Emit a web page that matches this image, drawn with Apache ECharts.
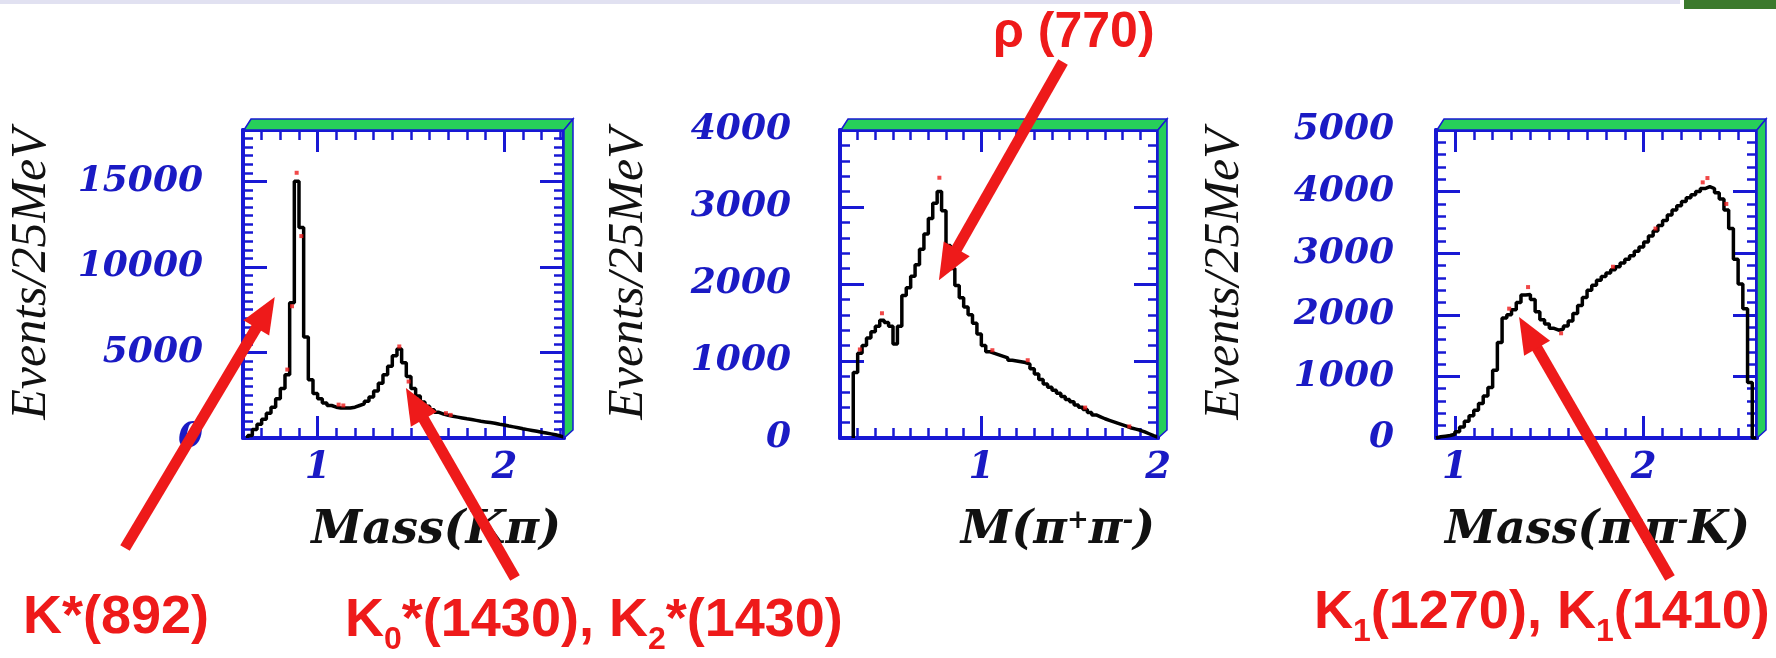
<!DOCTYPE html>
<html><head><meta charset="utf-8">
<script src="https://cdn.jsdelivr.net/npm/echarts@6/dist/echarts.min.js"></script>
<style>html,body{margin:0;padding:0;background:#fff}#c{width:1776px;height:658px}</style>
</head><body><div id="c"></div>
<script>
// ---------- DATA ----------
const binWidth = 0.025;           // 25 MeV bins
// Panel 1: Mass(K pi)
const kpiBinStart = 0.625;
const kpiFit = [150,500,800,1100,1450,1800,2300,2900,3700,7900,15000,12300,5900,3400,2600,
  2300,2050,1900,1800,1750,1750,1750,1800,1900,2000,2150,2400,2750,3200,3700,4200,4800,5200,
  4400,3600,2900,2450,2100,1850,1650,1500,1400,1330,1270,1220,1170,1120,1080,1030,980,940,900,
  860,800,760,700,650,600,540,490,440,390,340,290,240,190,120,40];
const kpiData = [[0.8875,15500],[0.9125,11800],[0.8625,7700],[0.8375,4000],[1.1125,1950],[1.1375,1900],
  [1.4375,5350],[1.4875,3300],[1.6875,1450],[1.7125,1350]];
const kpiXTicks = [1,2];
const kpiYTicks = [0,5000,10000,15000];
// Panel 2: M(pi+ pi-)
const pipiBinStart = 0.275;
const pipiFit = [850,1100,1200,1300,1380,1450,1530,1500,1450,1220,1450,1850,1950,2100,2250,2450,
  2650,2850,3050,3200,2950,2500,2200,1980,1820,1700,1600,1490,1350,1200,1120,1100,1080,1060,1040,
  1010,1000,990,980,960,900,830,760,700,660,620,580,540,500,470,430,400,370,330,300,275,250,230,
  210,190,170,150,130,115,100,80,55,30,10];
const pipiData = [[0.7625,3380],[0.4375,1620],[0.3125,1150],[0.8375,2280],[1.0625,1140],[1.2625,1010],
  [1.5875,395],[1.8375,150]];
const pipiXTicks = [1,2];
const pipiYTicks = [0,1000,2000,3000,4000];
// Panel 3: Mass(pi- pi- K)
const kpipiBinStart = 0.9;
const kpipiFit = [20,30,40,60,100,180,270,360,450,560,680,820,1100,1550,1950,2000,2080,2200,2320,
  2330,2250,2050,1920,1850,1780,1750,1770,1820,1900,2020,2150,2280,2400,2480,2560,2620,2680,2730,
  2780,2840,2900,2960,3030,3100,3180,3280,3360,3450,3530,3620,3700,3770,3840,3900,3950,4000,4050,
  4080,4050,3980,3880,3700,3400,2900,2500,2100,900,0];
const kpipiData = [[2.3375,4220],[2.3125,4150],[1.3875,2450],[1.5625,1700],[1.2875,2100],
  [2.4375,3800],[1.8375,2780],[2.0625,3400]];
const kpipiXTicks = [1,2];
const kpipiYTicks = [0,1000,2000,3000,4000,5000];

// ---------- STYLE / LAYOUT ----------
const BLUE = '#1818d4', LBL = '#1a1ac4', RED = '#ee1a1a', GREEN = '#27cf5a';
const TOP = 130, HEIGHT = 308;
const layout = [
  {left:243, width:321, labelMargin:40, nameGap:-3},
  {left:840, width:318, labelMargin:49, nameGap:-3},
  {left:1436, width:321, labelMargin:42, nameGap:-7}
];
const panels = [
  {binStart:kpiBinStart, fit:kpiFit, data:kpiData, xMin:0.6, xMax:2.32, yMax:18000, yMinor:500,
   xTicks:kpiXTicks, yTicks:kpiYTicks, title:'Mass(Kπ)'},
  {binStart:pipiBinStart, fit:pipiFit, data:pipiData, xMin:0.2, xMax:2.0, yMax:4000, yMinor:200,
   xTicks:pipiXTicks, yTicks:pipiYTicks, title:'M(π{sup|+}π{sup|-})'},
  {binStart:kpipiBinStart, fit:kpipiFit, data:kpipiData, xMin:0.9, xMax:2.6, yMax:5000, yMinor:200,
   xTicks:kpipiXTicks, yTicks:kpipiYTicks, title:'Mass(π{sup|-}π{sup|-}K)'}
];

const tickFont = {color:LBL, fontFamily:'DejaVu Serif', fontStyle:'italic', fontWeight:'bold'};
const titleFont = {color:'#111', fontFamily:'DejaVu Serif', fontStyle:'italic', fontWeight:'bold', fontSize:46};
const plain = v => String(v);

const grids = [], xAxes = [], yAxes = [], series = [], lineSeriesIdx = [];
panels.forEach((p, i) => {
  const L = layout[i];
  grids.push({left:L.left, top:TOP, width:L.width, height:HEIGHT, containLabel:false, outerBoundsMode:'none'});
  const xb = {type:'value', gridIndex:i, min:p.xMin, max:p.xMax, splitLine:{show:false}, nameMoveOverlap:false};
  const yb = {type:'value', gridIndex:i, min:0, max:p.yMax, splitLine:{show:false}, nameMoveOverlap:false};
  const minorTick = {inside:true, length:10, lineStyle:{color:BLUE, width:2.5}};
  const lineOn = {show:true, onZero:false, lineStyle:{color:BLUE, width:4}};
  const lineOff = {show:false, onZero:false};
  const xi = xAxes.length;
  xAxes.push({...xb, position:'bottom', interval:0.1, axisLine:lineOn, axisTick:minorTick, axisLabel:{show:false}});
  xAxes.push({...xb, position:'bottom', axisLine:lineOff,
    axisTick:{inside:true, length:22, customValues:p.xTicks, lineStyle:{color:BLUE, width:3}},
    axisLabel:{customValues:p.xTicks, margin:12, fontSize:37, formatter:plain, ...tickFont},
    name:p.title, nameLocation:'end', nameGap:L.nameGap,
    nameTextStyle:{...titleFont, align:'right', verticalAlign:'top', padding:[70,0,0,0],
      rich:{sup:{...titleFont, fontSize:26, verticalAlign:'top'}}}});
  xAxes.push({...xb, position:'top', interval:0.1, axisLine:lineOn, axisTick:minorTick, axisLabel:{show:false}});
  xAxes.push({...xb, position:'top', axisLine:lineOff,
    axisTick:{inside:true, length:22, customValues:p.xTicks, lineStyle:{color:BLUE, width:3}}, axisLabel:{show:false}});
  const yi = yAxes.length;
  yAxes.push({...yb, position:'left', interval:p.yMinor, axisLine:lineOn, axisTick:minorTick, axisLabel:{show:false}});
  yAxes.push({...yb, position:'left', axisLine:lineOff,
    axisTick:{inside:true, length:24, customValues:p.yTicks, lineStyle:{color:BLUE, width:3}},
    axisLabel:{customValues:p.yTicks, margin:L.labelMargin, fontSize:36, formatter:plain, ...tickFont},
    name:'Events/25MeV', nameLocation:'middle', nameGap:186, nameRotate:90,
    nameTextStyle:{color:'#111', fontFamily:'Liberation Serif', fontStyle:'italic', fontSize:50, padding:[0,0,0,20]}});
  yAxes.push({...yb, position:'right', interval:p.yMinor, axisLine:lineOn, axisTick:minorTick, axisLabel:{show:false}});
  yAxes.push({...yb, position:'right', axisLine:lineOff,
    axisTick:{inside:true, length:24, customValues:p.yTicks, lineStyle:{color:BLUE, width:3}}, axisLabel:{show:false}});

  const hist = [[p.binStart, 0]].concat(p.fit.map((v, k) => [p.binStart + binWidth * k, v]))
    .concat([[p.binStart + binWidth * p.fit.length, 0]]);
  lineSeriesIdx.push(series.length);
  series.push({type:'line', xAxisIndex:xi, yAxisIndex:yi, step:'end', symbol:'none', data:hist,
    lineStyle:{color:'#000', width:3.5}, z:3, silent:true});
  series.push({type:'scatter', xAxisIndex:xi, yAxisIndex:yi, data:p.data, symbol:'rect', symbolSize:[4,4],
    itemStyle:{color:RED}, z:4, silent:true});
});

const chart = echarts.init(document.getElementById('c'));
chart.setOption({animation:false, backgroundColor:'#fff', grid:grids, xAxis:xAxes, yAxis:yAxes, series:series});

// ---------- ANNOTATIONS ----------
const arrows = [
  {panel:0, tip:[0.77, 8240], tail:[125, 548]},
  {panel:0, tip:[1.473, 2920], tail:[515, 578]},
  {panel:1, tip:[0.76, 2050], tail:[1063, 62]},
  {panel:2, tip:[1.34, 1964], tail:[1670, 578]}
];
const g = [];
// faint strip and image fragment at the top
g.push({type:'rect', shape:{x:0, y:0, width:1680, height:4}, style:{fill:'rgba(170,170,215,0.35)'}, z:1});
g.push({type:'rect', shape:{x:1684, y:0, width:92, height:9}, style:{fill:'#3b7a2c'}, z:1});
// green 3D frame edges
layout.forEach(L => {
  const Lx = L.left, R = L.left + L.width, T = TOP, B = TOP + HEIGHT;
  g.push({type:'polygon', shape:{points:[[Lx+1,T],[Lx+8,T-11],[R+9,T-11],[R,T]]},
    style:{fill:GREEN, stroke:BLUE, lineWidth:1.5}, z:5});
  g.push({type:'polygon', shape:{points:[[R,T],[R+9,T-11],[R+9,B-8],[R,B]]},
    style:{fill:GREEN, stroke:BLUE, lineWidth:1.5}, z:5});
});
arrows.forEach(a => {
  const tip = chart.convertToPixel({seriesIndex:lineSeriesIdx[a.panel]}, a.tip);
  const tail = a.tail;
  const dx = tip[0]-tail[0], dy = tip[1]-tail[1], len = Math.hypot(dx, dy);
  const ux = dx/len, uy = dy/len, hl = 36, hw = 15, px = -uy, py = ux;
  const bx = tip[0]-ux*hl, by = tip[1]-uy*hl;
  g.push({type:'line', shape:{x1:tail[0], y1:tail[1], x2:bx+ux*3, y2:by+uy*3},
    style:{stroke:RED, lineWidth:11}, z:100});
  g.push({type:'polygon', shape:{points:[tip,[bx+px*hw, by+py*hw],[bx-px*hw, by-py*hw]]},
    style:{fill:RED}, z:100});
});
const lbl = {fill:RED, fontFamily:'Liberation Sans', fontWeight:'bold', fontSize:54, lineHeight:70,
  align:'left', verticalAlign:'middle',
  rich:{sub:{fill:RED, fontFamily:'Liberation Sans', fontWeight:'bold', fontSize:32, lineHeight:32, verticalAlign:'bottom'}}};
g.push({type:'text', x:993, y:33, style:{...lbl, text:'ρ (770)', fontSize:50, lineHeight:56}, z:101});
g.push({type:'text', x:23, y:618, style:{...lbl, text:'K*(892)'}, z:101});
g.push({type:'text', x:345, y:621, style:{...lbl, text:'K{sub|0}*(1430), K{sub|2}*(1430)'}, z:101});
g.push({type:'text', x:1314, y:613, style:{...lbl, text:'K{sub|1}(1270), K{sub|1}(1410)'}, z:101});
chart.setOption({graphic:{elements:g}});
</script>
</body></html>
